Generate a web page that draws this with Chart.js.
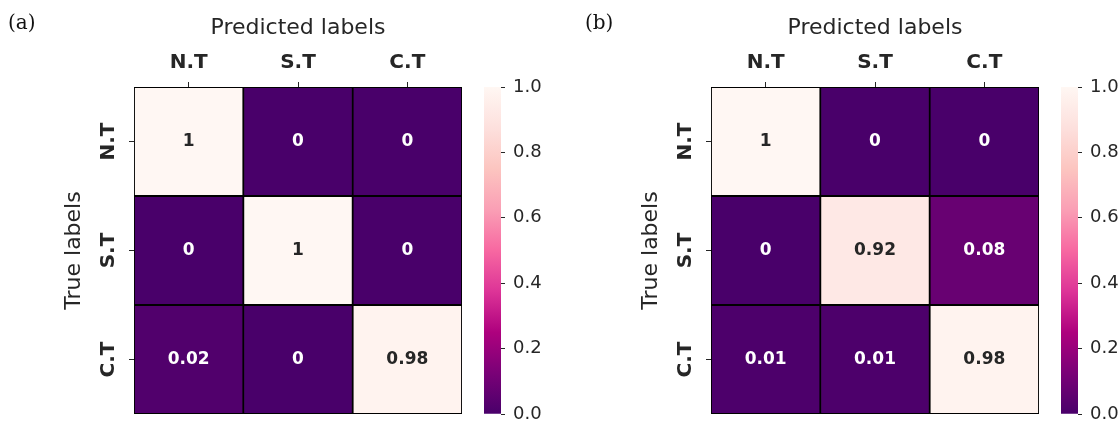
<!DOCTYPE html>
<html>
<head>
<meta charset="utf-8">
<script src="https://cdn.jsdelivr.net/npm/chart.js@4/dist/chart.umd.min.js"></script>
<style>
  html, body { margin: 0; padding: 0; background: #fff; overflow: hidden; }
  #page { position: relative; width: 1119px; height: 423px; overflow: hidden; background: #fff; }
  #page canvas { position: absolute; top: 0; }
</style>
</head>
<body>
<div id="page"></div>
<script>
// ---- data -------------------------------------------------------------
const predictedLabels = ['N.T', 'S.T', 'C.T'];
const trueLabels = ['N.T', 'S.T', 'C.T'];
const panelTags = ['(a)', '(b)'];

// normalised confusion matrices, one row per true class
const matrixA = [
  [1, 0, 0],
  [0, 1, 0],
  [0.02, 0, 0.98]
];
const matrixB = [
  [1, 0, 0],
  [0, 0.92, 0.08],
  [0.01, 0.01, 0.98]
];

const colorbarTicks = [0, 0.2, 0.4, 0.6, 0.8, 1.0];

// RdPu reversed: 0 -> deep purple, 1 -> near white
const rdpuStops = ['#49006a', '#7a0177', '#ae017e', '#dd3497', '#f768a1',
                   '#fa9fb5', '#fcc5c0', '#fde0dd', '#fff7f3'];

// ---- helpers ----------------------------------------------------------
const INK = '#262626';
const SANS = 'DejaVu Sans';

function hexToRgb(h) {
  const n = parseInt(h.slice(1), 16);
  return [(n >> 16) & 255, (n >> 8) & 255, n & 255];
}
const stopRgb = rdpuStops.map(hexToRgb);

function cmap(v) {
  const t = Math.min(1, Math.max(0, v)) * (stopRgb.length - 1);
  const i = Math.min(stopRgb.length - 2, Math.floor(t));
  const f = t - i;
  const a = stopRgb[i], b = stopRgb[i + 1];
  const c = a.map((x, k) => Math.round(x + (b[k] - x) * f));
  return `rgb(${c[0]},${c[1]},${c[2]})`;
}

function luminance(rgbStr) {
  const c = rgbStr.match(/\d+/g).map(Number).map(x => {
    x /= 255;
    return x <= 0.03928 ? x / 12.92 : Math.pow((x + 0.055) / 1.055, 2.4);
  });
  return 0.2126 * c[0] + 0.7152 * c[1] + 0.0722 * c[2];
}

// ---- layout of one panel (heatmap + colorbar) ------------------------
const PANEL_OFFSETS = [0, 577];
const HM_W = 470, HM_H = 423;
const AREA = { left: 134, top: 87, right: 462, bottom: 414 };
const CB_LEFT = 470, CB_W = 90;
const CB_AREA = { left: 14, right: 31 };

// numbers written inside each cell
const cellText = {
  id: 'cellText',
  afterDatasetsDraw(chart) {
    const ctx = chart.ctx;
    ctx.save();
    ctx.font = `bold 17px "${SANS}"`;
    ctx.textAlign = 'center';
    ctx.textBaseline = 'middle';
    chart.data.datasets.forEach((ds, r) => {
      const meta = chart.getDatasetMeta(r);
      meta.data.forEach((bar, c) => {
        const v = ds.values[c];
        ctx.fillStyle = luminance(cmap(v)) > 0.408 ? INK : '#ffffff';
        ctx.fillText(String(v), bar.x, (bar.y + bar.base) / 2);
      });
    });
    ctx.restore();
  }
};

// panel letter in the top-left corner
const panelTag = {
  id: 'panelTag',
  afterDraw(chart, args, opts) {
    const ctx = chart.ctx;
    ctx.save();
    ctx.font = '20px "DejaVu Serif"';
    ctx.fillStyle = '#111111';
    ctx.textAlign = 'left';
    ctx.textBaseline = 'alphabetic';
    ctx.fillText(opts.text, 8, 28.5);
    ctx.restore();
  }
};

function addCanvas(left, w, h) {
  const cv = document.createElement('canvas');
  cv.width = w; cv.height = h;
  cv.style.left = left + 'px';
  cv.style.width = w + 'px';
  cv.style.height = h + 'px';
  document.getElementById('page').appendChild(cv);
  return cv;
}

const tickGrid = {
  drawOnChartArea: false,
  drawTicks: true,
  tickLength: 5,
  tickColor: INK,
  tickWidth: 1
};

function drawHeatmap(left, matrix, tag) {
  const cv = addCanvas(left, HM_W, HM_H);
  const datasets = matrix.map((row, r) => ({
    data: row.map(() => [r, r + 1]),
    values: row,
    backgroundColor: row.map(cmap),
    borderColor: '#000000',
    borderWidth: 1.25,
    borderSkipped: false,
    grouped: false,
    barPercentage: 1,
    categoryPercentage: 1
  }));

  return new Chart(cv, {
    type: 'bar',
    data: { labels: predictedLabels, datasets },
    plugins: [cellText, panelTag],
    options: {
      responsive: false,
      animation: false,
      devicePixelRatio: 1,
      layout: { padding: { left: 0, top: 0, right: HM_W - AREA.right, bottom: HM_H - AREA.bottom } },
      plugins: {
        legend: { display: false },
        tooltip: { enabled: false },
        panelTag: { text: tag }
      },
      scales: {
        x: {
          type: 'category',
          position: 'top',
          offset: true,
          grid: Object.assign({ offset: false }, tickGrid),
          border: { display: false },
          ticks: {
            font: { family: SANS, size: 20, weight: 'bold' },
            color: INK,
            padding: 7,
            maxRotation: 0,
            autoSkip: false
          },
          title: {
            display: true,
            text: 'Predicted labels',
            font: { family: SANS, size: 22 },
            color: INK,
            padding: { top: 15, bottom: 0 }
          },
          afterFit(s) {
            s.height = AREA.top;
            s.paddingLeft = 0; s.paddingRight = 0;
          }
        },
        y: {
          type: 'linear',
          position: 'left',
          min: 0,
          max: trueLabels.length,
          reverse: true,
          afterBuildTicks(s) {
            s.ticks = trueLabels.map((_, i) => ({ value: i + 0.5 }));
          },
          grid: tickGrid,
          border: { display: false },
          ticks: {
            font: { family: SANS, size: 20, weight: 'bold' },
            color: INK,
            padding: 1,
            minRotation: 90,
            maxRotation: 90,
            crossAlign: 'center',
            autoSkip: false,
            callback: (v, i) => trueLabels[i]
          },
          title: {
            display: true,
            text: 'True labels',
            font: { family: SANS, size: 22 },
            color: INK,
            padding: { top: 61, bottom: 0 }
          },
          afterFit(s) {
            s.width = AREA.left;
            s.paddingTop = 0; s.paddingBottom = 0;
          }
        }
      }
    }
  });
}

function drawColorbar(left) {
  const cv = addCanvas(left, CB_W, HM_H);
  return new Chart(cv, {
    type: 'bar',
    data: {
      labels: [''],
      datasets: [{
        data: [[0, 1]],
        backgroundColor(c) {
          const a = c.chart.chartArea;
          if (!a) return rdpuStops[0];
          const g = c.chart.ctx.createLinearGradient(0, a.bottom, 0, a.top);
          rdpuStops.forEach((s, i) => g.addColorStop(i / (rdpuStops.length - 1), s));
          return g;
        },
        borderWidth: 0,
        barPercentage: 1,
        categoryPercentage: 1
      }]
    },
    options: {
      responsive: false,
      animation: false,
      devicePixelRatio: 1,
      layout: { padding: { left: CB_AREA.left, top: AREA.top, right: 0, bottom: HM_H - AREA.bottom } },
      plugins: { legend: { display: false }, tooltip: { enabled: false } },
      scales: {
        x: { display: false },
        y: {
          position: 'right',
          min: 0,
          max: 1,
          afterBuildTicks(s) {
            s.ticks = colorbarTicks.map(v => ({ value: v }));
          },
          ticks: {
            callback: v => v.toFixed(1),
            font: { family: SANS, size: 18 },
            color: INK,
            padding: 8,
            autoSkip: false
          },
          grid: { drawOnChartArea: false, drawTicks: true, tickLength: 4, tickColor: INK, tickWidth: 1 },
          border: { display: false },
          afterFit(s) {
            s.width = CB_W - CB_AREA.right;
            s.paddingTop = 0; s.paddingBottom = 0;
          }
        }
      }
    }
  });
}

[matrixA, matrixB].forEach((m, p) => {
  const off = PANEL_OFFSETS[p];
  drawHeatmap(off, m, panelTags[p]);
  drawColorbar(off + CB_LEFT);
});
</script>
</body>
</html>
